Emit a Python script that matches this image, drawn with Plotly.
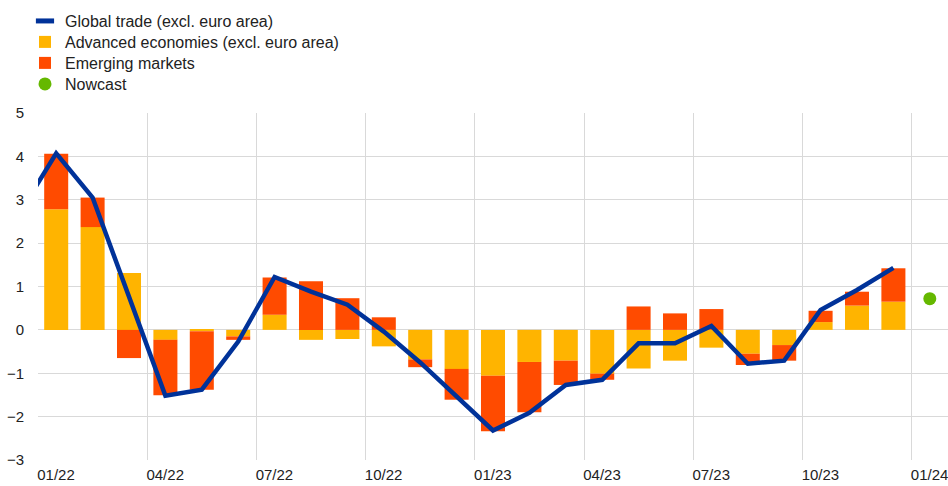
import pandas as pd
import plotly.graph_objects as go

# Monthly periods: Dec 2021 (line start, clipped) to Jan 2024 (nowcast)
months = pd.period_range("2021-12", "2024-01", freq="M").strftime("%m/%y").tolist()

# Contributions, 01/22 - 12/23
advanced = [2.78, 2.37, 1.31, -0.23, -0.03, -0.15, 0.35, -0.23, -0.21, -0.38, -0.68, -0.90,
            -1.06, -0.74, -0.71, -1.01, -0.89, -0.71, -0.41, -0.55, -0.35, 0.18, 0.56, 0.65]
emerging = [1.28, 0.68, -0.65, -1.28, -1.35, -0.08, 0.86, 1.12, 0.73, 0.29, -0.18, -0.71,
            -1.28, -1.16, -0.56, -0.14, 0.54, 0.38, 0.48, -0.26, -0.36, 0.26, 0.32, 0.77]

# Global trade, 12/21 - 12/23
global_trade = [2.70, 4.07, 3.05, 0.73, -1.52, -1.38, -0.27, 1.22, 0.88, 0.58, -0.04, -0.75, -1.55,
                -2.32, -1.91, -1.27, -1.15, -0.31, -0.31, 0.09, -0.78, -0.71, 0.46, 0.92, 1.43]

nowcast = [0.72]  # 01/24

quarter_labels = ["01/22", "04/22", "07/22", "10/22", "01/23", "04/23", "07/23", "10/23", "01/24"]

BLUE = "rgb(0,50,153)"
YELLOW = "rgb(255,180,0)"
RED = "rgb(255,75,0)"
GREEN = "rgb(101,184,0)"
FONT = "Liberation Sans, Arial, sans-serif"

pos = list(range(len(months)))
bar_x = pos[1:25]
line_x = pos[0:25]
now_x = pos[25:26]
tick_x = [months.index(m) - 0.5 for m in quarter_labels]

fig = go.Figure()

# legend-only entry so the line key is a short thick dash
fig.add_trace(go.Scatter(
    x=[None], y=[None], mode="markers", name="Global trade (excl. euro area)",
    marker=dict(symbol="line-ew", size=13, color=BLUE, line=dict(color=BLUE, width=5)),
    legend="legend"
))
fig.add_trace(go.Bar(x=bar_x, y=advanced, name="Advanced economies (excl. euro area)",
                     marker=dict(color=YELLOW, line=dict(width=0)), legend="legend2"))
fig.add_trace(go.Bar(x=bar_x, y=emerging, name="Emerging markets",
                     marker=dict(color=RED, line=dict(width=0)), legend="legend3"))
fig.add_trace(go.Scatter(x=line_x, y=global_trade, mode="lines", showlegend=False,
                         line=dict(color=BLUE, width=4.5)))
fig.add_trace(go.Scatter(x=now_x, y=nowcast, mode="markers", name="Nowcast",
                         marker=dict(color=GREEN, size=13), cliponaxis=False,
                         legend="legend4"))

# one legend per row so the row spacing can follow the reference
legend_style = dict(x=-0.0143, xanchor="left", yanchor="top", font=dict(size=16),
                    bgcolor="rgba(0,0,0,0)", itemclick=False, itemdoubleclick=False)

fig.update_layout(
    width=948,
    height=486,
    margin=dict(l=38, r=0, t=113, b=26, autoexpand=False),
    plot_bgcolor="white",
    paper_bgcolor="white",
    barmode="relative",
    bargap=0.34,
    font=dict(family=FONT, size=16, color="#222222"),
    legend=dict(y=1.314, **legend_style),
    legend2=dict(y=1.2536, **legend_style),
    legend3=dict(y=1.1931, **legend_style),
    legend4=dict(y=1.1325, **legend_style),
    xaxis=dict(
        range=[0.5, 25.5],
        tickvals=tick_x,
        ticktext=quarter_labels,
        ticklabelshift=18,
        ticklabelstandoff=4,
        ticklabeloverflow="allow",
        automargin=False,
        showgrid=True,
        gridcolor="#d9d9d9",
        gridwidth=1,
        zeroline=False,
        showline=False,
        ticks="",
        tickfont=dict(size=15),
    ),
    yaxis=dict(
        range=[-3, 5],
        dtick=1,
        automargin=False,
        showgrid=True,
        gridcolor="#d9d9d9",
        gridwidth=1,
        zeroline=True,
        zerolinecolor="#d9d9d9",
        zerolinewidth=1,
        ticks="",
        ticklabelstandoff=13,
        tickfont=dict(size=15),
    ),
)

# drop the default 8px body margin so the figure fills the window exactly
fig.write_html("out.html", config={"displayModeBar": False},
               post_script="document.body.style.margin = '0';")
